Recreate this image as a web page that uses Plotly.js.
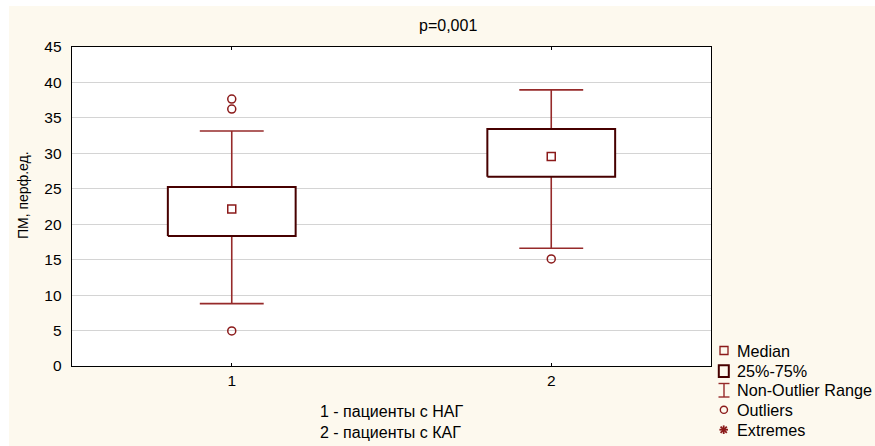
<!DOCTYPE html>
<html>
<head>
<meta charset="utf-8">
<script src="https://cdn.plot.ly/plotly-3.0.1.min.js"></script>
<style>
  html, body { margin: 0; padding: 0; background: #ffffff; }
  #bg { position: absolute; left: 9px; top: 6px; width: 866px; height: 440px; background: #fdf9ee; }
  #chart { position: absolute; left: 0; top: 0; width: 875px; height: 446px; }
</style>
</head>
<body>
<div id="bg"></div>
<div id="chart"></div>
<script>
// ---- data ----
const categories = [1, 2];
const tickLabels = ['1', '2'];
const q1 = [18.35, 26.7];
const medians = [22.15, 29.55];
const q3 = [25.25, 33.45];
const lowerWhisker = [8.8, 16.6];
const upperWhisker = [33.15, 38.95];
const outlierX = [1, 1, 1, 2];
const outlierY = [37.65, 36.25, 4.95, 15.1];
const titleText = 'p=0,001';
const yTitle = 'ПМ, перф.ед.';
const xTitleLines = ['1 - пациенты с НАГ', '2 - пациенты с КАГ'];
const legendLabels = ['Median', '25%-75%', 'Non-Outlier Range', 'Outliers', 'Extremes'];

// ---- styles ----
const BOX_HALF = 0.2, CAP_HALF = 0.1;
const boxColor = '#470000';
const whiskerColor = '#962a2a';
const markColor = '#8b1a1a';
const FONT = 'Liberation Sans, Arial, sans-serif';

const W = 875, H = 446;
const M = { l: 72, r: 164, t: 47, b: 80 };
const PW = W - M.l - M.r, PH = H - M.t - M.b;
const px = x => (x - M.l) / PW;
const py = y => 1 - (y - M.t) / PH;

// whiskers
const wx = [], wy = [];
categories.forEach((c, i) => {
  wx.push(c, c, null, c, c, null, c - CAP_HALF, c + CAP_HALF, null, c - CAP_HALF, c + CAP_HALF, null);
  wy.push(q3[i], upperWhisker[i], null, q1[i], lowerWhisker[i], null,
          upperWhisker[i], upperWhisker[i], null, lowerWhisker[i], lowerWhisker[i], null);
});
// boxes
const bx = [], by = [];
categories.forEach((c, i) => {
  bx.push(c - BOX_HALF, c + BOX_HALF, c + BOX_HALF, c - BOX_HALF, c - BOX_HALF, null);
  by.push(q1[i], q1[i], q3[i], q3[i], q1[i], null);
});

const traces = [
  { x: wx, y: wy, mode: 'lines', line: { color: whiskerColor, width: 1.6 }, hoverinfo: 'skip', showlegend: false },
  { x: bx, y: by, mode: 'lines', fill: 'toself', fillcolor: '#ffffff', line: { color: boxColor, width: 2 }, hoverinfo: 'skip', showlegend: false },
  { x: categories, y: medians, mode: 'markers', marker: { symbol: 'square-open', size: 8, color: markColor, line: { width: 1.5, color: markColor } }, showlegend: false },
  { x: outlierX, y: outlierY, mode: 'markers', marker: { symbol: 'circle-open', size: 8, color: markColor, line: { width: 1.5, color: markColor } }, showlegend: false }
];

// legend drawn by shapes + annotations
const shapes = [];
const annotations = [];
const legY = [350.5, 371, 390.3, 409.7, 429.7];
const iconX = 724;
shapes.push({ type: 'rect', xref: 'paper', yref: 'paper', x0: px(720), x1: px(728), y0: py(354.5), y1: py(346.5), line: { color: markColor, width: 1.3 }, fillcolor: 'rgba(0,0,0,0)' });
shapes.push({ type: 'rect', xref: 'paper', yref: 'paper', x0: px(718.8), x1: px(728.8), y0: py(377), y1: py(365.2), line: { color: boxColor, width: 2 }, fillcolor: 'rgba(0,0,0,0)' });
shapes.push({ type: 'line', xref: 'paper', yref: 'paper', x0: px(iconX), x1: px(iconX), y0: py(383.5), y1: py(397), line: { color: whiskerColor, width: 1.4 } });
shapes.push({ type: 'line', xref: 'paper', yref: 'paper', x0: px(718.5), x1: px(729.5), y0: py(383.5), y1: py(383.5), line: { color: whiskerColor, width: 1.4 } });
shapes.push({ type: 'line', xref: 'paper', yref: 'paper', x0: px(718.5), x1: px(729.5), y0: py(397), y1: py(397), line: { color: whiskerColor, width: 1.4 } });
shapes.push({ type: 'circle', xref: 'paper', yref: 'paper', x0: px(720.3), x1: px(727.5), y0: py(413.4), y1: py(406.2), line: { color: markColor, width: 1.4 }, fillcolor: 'rgba(0,0,0,0)' });
const ex = 723.7, ey = 429.7, er = 4.3;
[[0, 1], [1, 0], [0.72, 0.72], [0.72, -0.72]].forEach(d => {
  shapes.push({ type: 'line', xref: 'paper', yref: 'paper', x0: px(ex - d[0] * er), x1: px(ex + d[0] * er), y0: py(ey - d[1] * er), y1: py(ey + d[1] * er), line: { color: markColor, width: 1.8 } });
});
legendLabels.forEach((t, i) => {
  annotations.push({ xref: 'paper', yref: 'paper', x: px(735), y: py(legY[i]), xanchor: 'left', yanchor: 'middle', text: t, showarrow: false, font: { family: FONT, size: 16.2, color: '#000' } });
});

annotations.push({ xref: 'paper', yref: 'paper', x: px(447.5), y: py(26), xanchor: 'center', yanchor: 'middle', text: titleText, showarrow: false, font: { family: FONT, size: 16, color: '#000' } });
annotations.push({ xref: 'paper', yref: 'paper', x: px(23), y: py(195), xanchor: 'center', yanchor: 'middle', textangle: -90, text: yTitle, showarrow: false, font: { family: FONT, size: 14, color: '#000' } });
annotations.push({ xref: 'paper', yref: 'paper', x: px(391), y: py(422), xanchor: 'center', yanchor: 'middle', align: 'left', text: xTitleLines.join('<br>'), showarrow: false, font: { family: FONT, size: 16, color: '#000' } });

const layout = {
  width: W, height: H,
  margin: M,
  paper_bgcolor: 'rgba(0,0,0,0)',
  plot_bgcolor: '#ffffff',
  showlegend: false,
  hovermode: false,
  font: { family: FONT, size: 15, color: '#000' },
  xaxis: {
    range: [0.5, 2.5], tickvals: categories, ticktext: tickLabels,
    showgrid: false, zeroline: false, showline: true, linecolor: '#000', linewidth: 1.3, mirror: 'ticks',
    ticks: 'inside', ticklen: 3, tickcolor: '#000', tickwidth: 1,
    tickfont: { family: FONT, size: 15.5, color: '#000' }
  },
  yaxis: {
    range: [0, 45], tickvals: [0, 5, 10, 15, 20, 25, 30, 35, 40, 45],
    showgrid: true, gridcolor: '#d4d4d4', gridwidth: 1, zeroline: false,
    showline: true, linecolor: '#000', linewidth: 1.3, mirror: true,
    ticks: '', ticklabelstandoff: 6,
    tickfont: { family: FONT, size: 15.5, color: '#000' }
  },
  shapes: shapes,
  annotations: annotations
};

Plotly.newPlot('chart', traces, layout, { displayModeBar: false, staticPlot: true });
</script>
</body>
</html>
